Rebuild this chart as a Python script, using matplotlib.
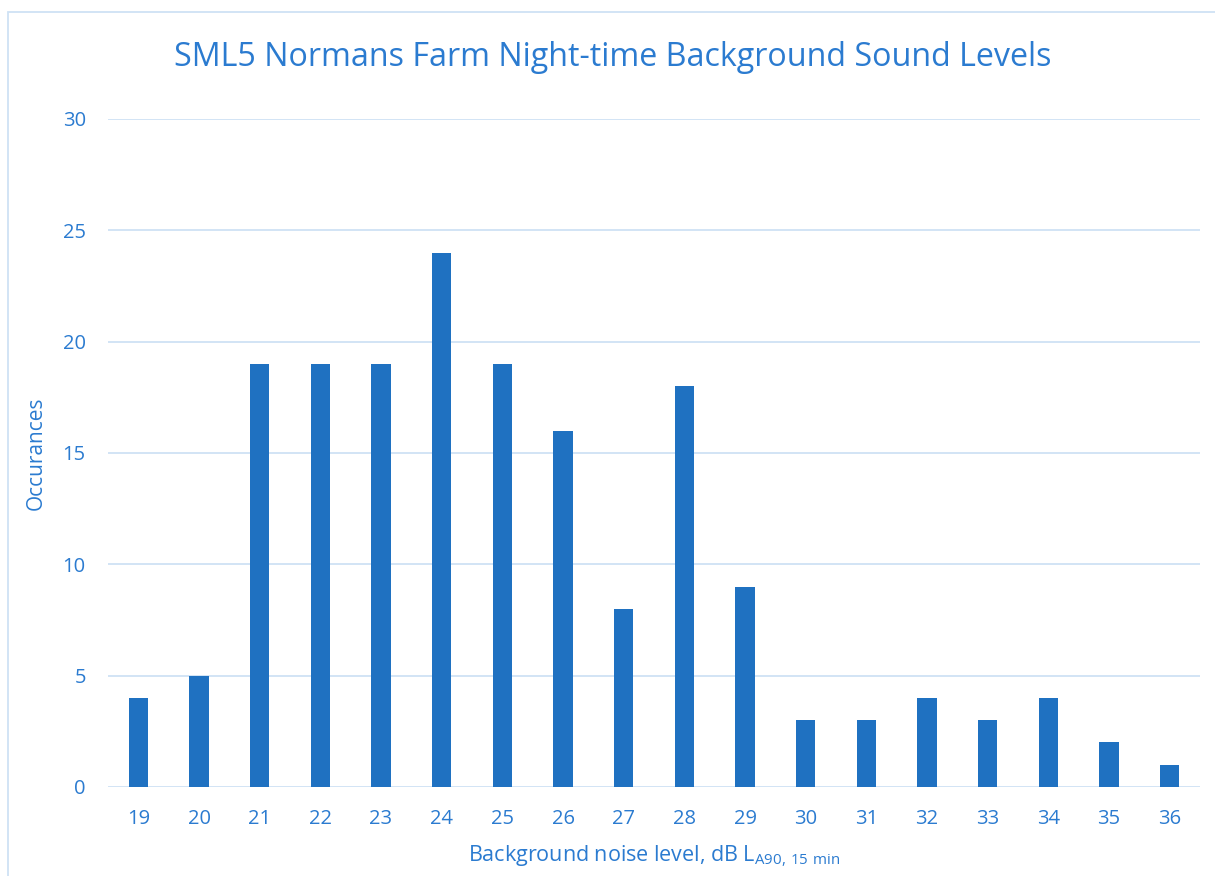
import matplotlib
matplotlib.use("Agg")
import matplotlib.pyplot as plt
from matplotlib.patches import Rectangle

plt.rcParams['font.family'] = ['Open Sans', 'DejaVu Sans']
plt.rcParams['mathtext.fontset'] = 'custom'
plt.rcParams['mathtext.rm'] = 'Open Sans'

levels = ['19', '20', '21', '22', '23', '24', '25', '26', '27', '28',
          '29', '30', '31', '32', '33', '34', '35', '36']
occurances = [4, 5, 19, 19, 19, 24, 19, 16, 8, 18, 9, 3, 3, 4, 3, 4, 2, 1]
y_ticks = [0, 5, 10, 15, 20, 25, 30]

bar_col = '#1f71c1'
txt_col = '#2b7bd0'
grid_col = '#cfe2f5'

fig = plt.figure(figsize=(12.15, 8.76), dpi=100)
ax = fig.add_axes([0.0889, 0.1016, 0.8988, 0.7626])

x = range(len(levels))
ax.bar(x, occurances, width=0.32, color=bar_col, zorder=3)

ax.set_xlim(-0.5, len(levels) - 0.5)
ax.set_ylim(0, 30)
ax.set_yticks(y_ticks)
ax.set_xticks(list(x))
ax.set_xticklabels(levels)
ax.grid(axis='y', color=grid_col, linewidth=1.3, zorder=0)
ax.set_axisbelow(True)
for s in ax.spines.values():
    s.set_visible(False)
ax.tick_params(length=0, colors=txt_col, labelsize=14.5)
ax.tick_params(axis='y', pad=16)
ax.tick_params(axis='x', pad=16)

ax.set_ylabel('Occurances', color=txt_col, fontsize=15)
ax.yaxis.set_label_coords(-0.056, 0.5)
ax.set_xlabel(r'Background noise level, dB L$_{\mathregular{A90,\,15\ min}}$',
              color=txt_col, fontsize=15.5)
ax.xaxis.set_label_coords(0.5, -0.085)

fig.text(0.5045, 0.934, 'SML5 Normans Farm Night-time Background Sound Levels',
         ha='center', va='center', color=txt_col, fontsize=23.2)

# chart border
fig.patches.append(Rectangle((8 / 1215, -0.01), 1.02, 1 - 12 / 876 + 0.01,
                             transform=fig.transFigure, fill=False,
                             edgecolor=grid_col, linewidth=1.3))

fig.savefig('out.png', dpi=100)
